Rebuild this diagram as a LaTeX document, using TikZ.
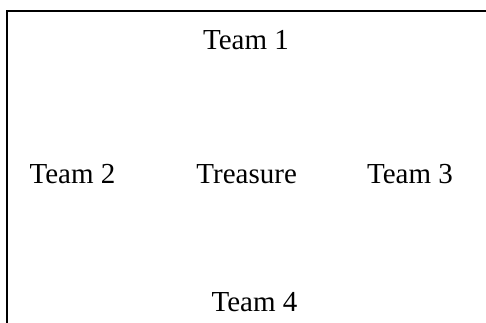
\documentclass[tikz,border=0pt]{standalone}
\usepackage{fontspec}
\setmainfont{Liberation Serif}
\begin{document}
\begin{tikzpicture}[x=1pt,y=1pt,
  lbl/.style={anchor=base,inner sep=0pt,font=\fontsize{29}{31}\selectfont}]
\useasboundingbox (0,0) rectangle (486,323);
\coordinate (tl) at (6.5,311.5);
\coordinate (tr) at (486,311.5);
\coordinate (bl) at (6.5,0);
\draw[line width=2pt] (tr) -- (tl) -- (bl);
\node[lbl] (t1) at (246,273.5) {Team 1};
\node[lbl] (t2) at (72.5,139) {Team 2};
\node[lbl] (tr0) at (246.7,139) {Treasure};
\node[lbl] (t3) at (410,139) {Team 3};
\node[lbl] (t4) at (254.5,11) {Team 4};
\end{tikzpicture}
\end{document}
